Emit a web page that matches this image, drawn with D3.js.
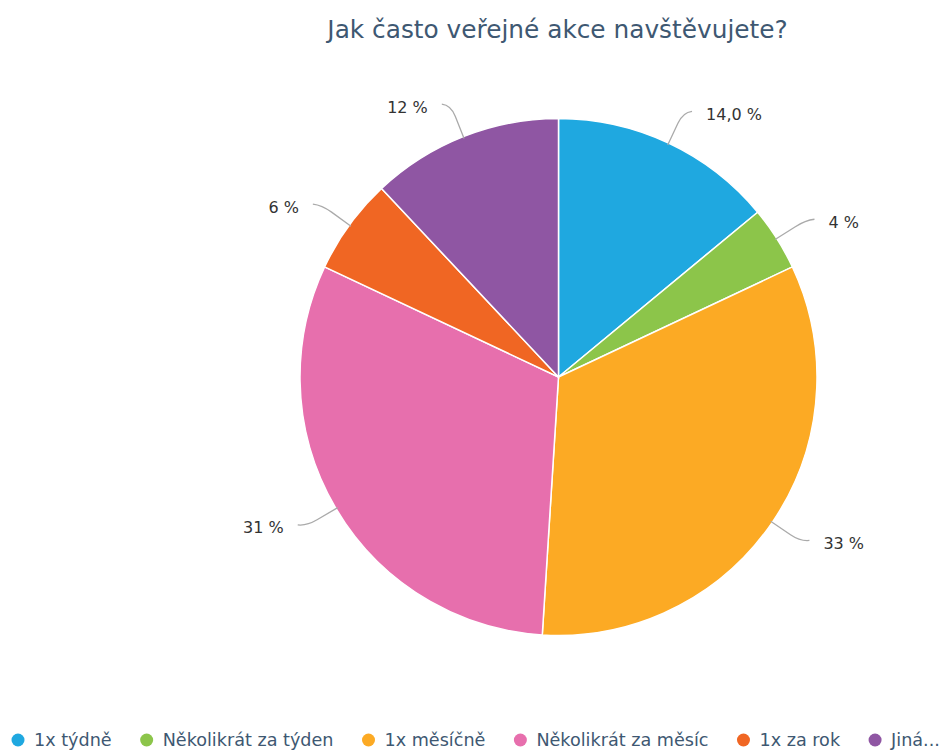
<!DOCTYPE html>
<html><head><meta charset="utf-8">
<script src="https://cdn.jsdelivr.net/npm/d3@7"></script>
<style>body{margin:0;background:#fff}svg{display:block}</style>
</head><body>
<svg id="c" width="942" height="751"></svg>
<script>
const categories = ["1x týdně","Několikrát za týden","1x měsíčně","Několikrát za měsíc","1x za rok","Jiná..."];
const values = [14, 4, 33, 31, 6, 12];
const valueLabels = ["14,0 %","4 %","33 %","31 %","6 %","12 %"];
const colors = ["#1fa8e0","#8cc54a","#fcaa24","#e76fad","#f06623","#8f56a3"];
const title = "Jak často veřejné akce navštěvujete?";

const svg = d3.select("#c");
const W = 942, H = 751;
const cx = 558.5, cy = 377, R = 258.5;
const font = "DejaVu Sans, sans-serif";
const slate = "#3e5872";

svg.append("text").attr("x", 557.5).attr("y", 38).attr("text-anchor","middle")
  .attr("font-family", font).attr("font-size", 24.8).attr("fill", slate).text(title);

const data = categories.map((c,i)=>({c, v:values[i], lab:valueLabels[i], col:colors[i]}));
const pie = d3.pie().value(d=>d.v).sort(null);
const arcs = pie(data);
const arc = d3.arc().innerRadius(0).outerRadius(R);
const g = svg.append("g").attr("transform",`translate(${cx},${cy})`);
g.selectAll("path.s").data(arcs).join("path").attr("class","s")
  .attr("d", arc).attr("fill", d=>d.data.col).attr("stroke","#fff").attr("stroke-width",1.5);

const pt = (a, r) => [r*Math.sin(a), -r*Math.cos(a)];
arcs.forEach(d => {
  const a = (d.startAngle + d.endAngle)/2;
  const right = Math.sin(a) >= 0;
  const p0 = pt(a, R - 2), p1 = pt(a, R + 22), p2 = pt(a, R + 34);
  const p3 = [p2[0] + (right ? 9 : -9), p2[1] - 1];
  g.append("path").attr("d", `M${p0}L${p1}Q${p2} ${p3}`)
    .attr("fill","none").attr("stroke","#aaaaaa").attr("stroke-width",1.3);
  g.append("text").attr("x", p3[0] + (right ? 14 : -14)).attr("y", p3[1] + 3)
    .attr("dominant-baseline","central").attr("text-anchor", right ? "start" : "end")
    .attr("font-family", font).attr("font-size", 16).attr("fill","#333").text(d.data.lab);
});

// legend
const lg = svg.append("g");
let x = 18;
const ly = 740;
data.forEach(d => {
  lg.append("circle").attr("cx", x).attr("cy", ly).attr("r", 6.5).attr("fill", d.col);
  const t = lg.append("text").attr("x", x + 16).attr("y", ly).attr("dominant-baseline","central")
    .attr("font-family", font).attr("font-size", 17.6).attr("fill", slate).text(d.c);
  x = x + 16 + t.node().getComputedTextLength() + 35;
});
</script>
</body></html>
